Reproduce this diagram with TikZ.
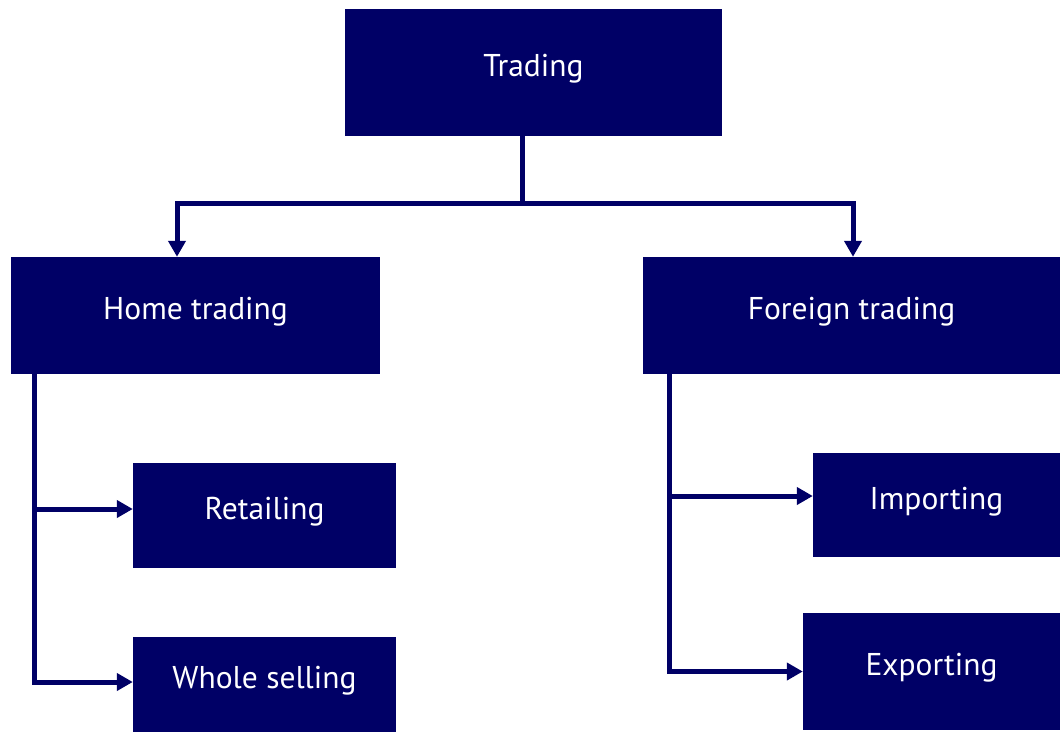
\documentclass[tikz,border=0pt]{standalone}
\usepackage{fontspec}
\setmainfont{PT Sans}
\usetikzlibrary{arrows.meta}
\definecolor{navy}{RGB}{0,0,102}
\begin{document}
\begin{tikzpicture}[x=1pt, y=-1pt,
	box/.style={fill=navy, text=white, inner sep=0pt, text height=21pt, text depth=13pt, font=\fontsize{31.5}{38}\selectfont},
	link/.style={draw=navy, line width=5pt},
	arrow/.style={link, -{Triangle[length=16pt, width=17pt]}}]
	\useasboundingbox (0, 0) rectangle (1060, 732);

	% boxes: name/x/y/width/height/label
	\foreach \name/\x/\y/\w/\h/\label in {
		trading/533.5/72.5/377/127/Trading,
		home/195.5/315.5/369/117/Home trading,
		foreign/851.5/315.5/417/117/Foreign trading,
		retail/264.5/515.5/263/105/Retailing,
		whole/264.5/684.5/263/95/Whole selling,
		import/936.5/505/247/104/Importing,
		export/931.5/671.5/257/117/Exporting
	} {
		\node[box, minimum width=\w pt, minimum height=\h pt] (\name) at (\x, \y) {\label};
	}

	% top level split
	\coordinate (split) at (522, 203);
	\draw[link] (trading.south -| split) -- (split);
	\draw[arrow] (split) -| ([xshift=-18.5pt]home.north);
	\draw[arrow] (split) -| ([xshift=1.5pt]foreign.north);

	% home trading
	\coordinate (hbus) at (34, 0);
	\draw[arrow] (hbus |- home.south) |- ([yshift=2.5pt]whole.west);
	\draw[arrow] (hbus |- retail.west) ++(0, -6.5) -- ([yshift=6.5pt]retail.west);

	% foreign trading
	\coordinate (fbus) at (669, 0);
	\draw[arrow] (fbus |- foreign.south) |- (export.west);
	\draw[arrow] (fbus |- import.west) ++(0, -9) -- ([yshift=9pt]import.west);
\end{tikzpicture}
\end{document}
